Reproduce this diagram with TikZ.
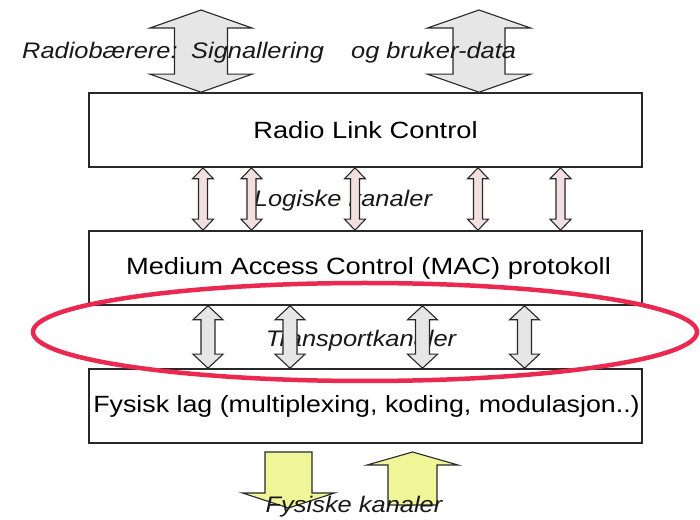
\documentclass[tikz,border=0pt]{standalone}
\usepackage{fontspec}
\setmainfont{Liberation Sans}
\usetikzlibrary{calc}
\definecolor{ared}{RGB}{234,40,80}
\definecolor{agray}{RGB}{230,230,230}
\definecolor{apink}{RGB}{242,224,224}
\definecolor{ayellow}{RGB}{240,245,152}
\definecolor{aline}{RGB}{40,40,40}
\newcommand\darr[7]{%
  \draw[#1] (#3) -- ++(#6,-#7) -- ++(#5-#6,0) -- ($(#4)+(#5,#7)$) -- ++(#6-#5,0)
    -- (#4) -- ++(-#6,#7) -- ++(#6-#5,0) -- ($(#3)+(-#5,-#7)$) -- ++(#5-#6,0) -- cycle;}
\newcommand\bt[1]{\scalebox{1.13}[1]{#1}}
\newcommand\bx[1]{\scalebox{1.16}[1]{#1}}
\begin{document}
\begin{tikzpicture}[x=1pt,y=1pt,
  layerbox/.style={draw=aline, line width=1.6pt, fill=white, minimum width=553pt, minimum height=74pt, inner sep=0pt,
    font=\fontsize{23.5}{28}\selectfont},
  lbl/.style={font=\fontsize{22.5}{27}\selectfont\itshape, inner sep=0pt, text=black!90},
  bigarr/.style={draw=aline, line width=1.1pt, fill=agray, line join=miter},
  logarr/.style={draw=aline, line width=1.1pt, fill=apink},
  trarr/.style={draw=aline, line width=1.1pt, fill=agray},
  yarr/.style={draw=aline, line width=1.1pt, fill=ayellow}]
\useasboundingbox (0,0) rectangle (700,519);
\fill[white] (0,0) rectangle (700,519);
% layers
\node[layerbox] (rlc) at (365.5,389) {\bx{Radio Link Control}};
\node[layerbox] (mac) at (365.5,251) {\hspace{6pt}\bx{Medium Access Control (MAC) protokoll}};
\node[layerbox] (fys) at (365.5,113) {\hspace{2pt}\scalebox{1.14}[1]{Fysisk lag (multiplexing, koding, modulasjon..)}};
% top radio bearer arrows
\coordinate (ta) at (201,509);
\coordinate (tb) at (479,509);
\darr{bigarr}{ta}{ta}{ta |- rlc.north}{26.5}{51}{18}
\darr{bigarr}{tb}{tb}{tb |- rlc.north}{26}{51.5}{18}
\node[lbl, anchor=base west] (rb) at (22,460) {\bt{Radiobærere:\hspace{12pt}Signallering\hspace{24pt}og bruker-data}};
% logical channels
\node[lbl] (lk) at (343,318) {\bt{Logiske kanaler}};
\foreach \n/\xx in {l1/203,l2/251.5,l3/355,l4/478,l5/560.5}{
  \coordinate (\n) at (\xx,0);
  \darr{logarr}{\n}{\n |- rlc.south}{\n |- mac.north}{4.5}{10.5}{11}
}
% transport channels
\node[lbl] (tk) at (361,178) {\bt{Transportkanaler}};
\foreach \n/\xx in {k1/208,k2/290,k3/422.5,k4/524.5}{
  \coordinate (\n) at (\xx,0);
  \darr{trarr}{\n}{\n |- mac.south}{\n |- fys.north}{7}{15}{14}
}
% physical channels
\coordinate (yd) at (288.5,67);
\coordinate (yu) at (412.5,67);
\draw[yarr] (yd) ++(-23.5,0) -- ++(47,0) -- ++(0,-41) -- ++(22.5,0) -- ++(-46,-15) -- ++(-46,15) -- ++(22.5,0) -- cycle;
\draw[yarr] (yu) -- ++(45.5,-13) -- ++(-21,0) -- ++(0,-40) -- ++(-49,0) -- ++(0,40) -- ++(-21,0) -- cycle;
\node[lbl] (fk) at (354,12) {\bt{Fysiske kanaler}};
% highlight ellipse
\draw[ared, line width=4.5pt] (365,187) ellipse [x radius=332pt, y radius=49pt];
\end{tikzpicture}
\end{document}
